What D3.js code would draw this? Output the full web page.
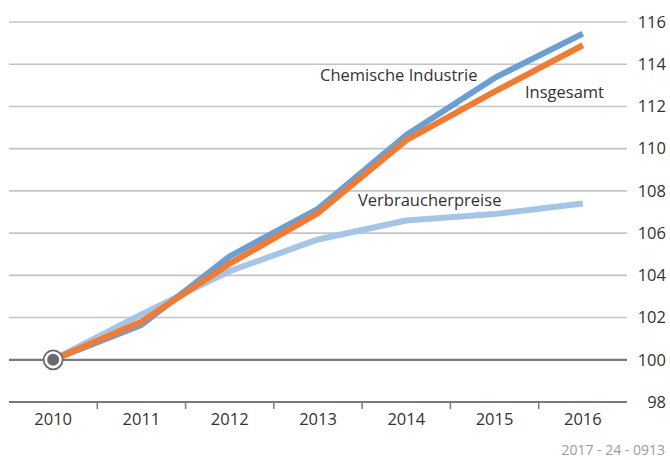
<!DOCTYPE html>
<html>
<head>
<meta charset="utf-8">
<script src="https://cdn.jsdelivr.net/npm/d3@7"></script>
<style>
  body { margin: 0; background: #fff; }
  svg text { font-family: "Open Sans", "Noto Sans", sans-serif; }
</style>
</head>
<body>
<svg id="chart" width="670" height="460"></svg>
<script>
// Index 2010 = 100
const years = ["2010", "2011", "2012", "2013", "2014", "2015", "2016"];
const chemie = [100, 101.65, 104.9, 107.15, 110.65, 113.35, 115.45];
const insgesamt = [100, 101.8, 104.55, 106.95, 110.4, 112.7, 114.9];
const verbraucher = [100, 102.15, 104.2, 105.7, 106.6, 106.9, 107.4];
const yTicks = [98, 100, 102, 104, 106, 108, 110, 112, 114, 116];

const series = [
  { name: "Verbraucherpreise", values: verbraucher, color: "#a3c6e8", label: [358, 206] },
  { name: "Chemische Industrie", values: chemie, color: "#6a9fd6", label: [320, 81] },
  { name: "Insgesamt", values: insgesamt, color: "#f47a30", label: [525, 98] }
];

const svg = d3.select("#chart");
const left = 9, right = 627;

const x = d3.scaleBand().domain(years).range([left, right]);
const y = d3.scaleLinear().domain([98, 116]).range([402, 22]);
const cx = d => x(d) + x.bandwidth() / 2;

// horizontal grid
svg.append("g").selectAll("line").data(yTicks).join("line")
  .attr("x1", left).attr("x2", right)
  .attr("y1", d => y(d)).attr("y2", d => y(d))
  .attr("stroke", d => d <= 100 ? "#7a7a7a" : "#c4c4c8")
  .attr("stroke-width", d => d <= 100 ? 2.2 : 1.6);

// right value axis labels
svg.append("g").selectAll("text").data(yTicks).join("text")
  .attr("x", 666).attr("y", d => y(d)).attr("dy", "0.35em")
  .attr("text-anchor", "end")
  .attr("font-size", 16.5).attr("fill", "#333")
  .text(d => d);

// bottom axis ticks between years
svg.append("g").selectAll("line").data(years.slice(1)).join("line")
  .attr("x1", d => x(d)).attr("x2", d => x(d))
  .attr("y1", y(98)).attr("y2", y(98) + 7)
  .attr("stroke", "#7a7a7a").attr("stroke-width", 1.5);

svg.append("g").selectAll("text").data(years).join("text")
  .attr("x", d => cx(d)).attr("y", 425)
  .attr("text-anchor", "middle")
  .attr("font-size", 16.5).attr("fill", "#333")
  .text(d => d);

// lines
const line = d3.line().x((d, i) => cx(years[i])).y(d => y(d));
svg.append("g").selectAll("path").data(series).join("path")
  .attr("d", d => line(d.values))
  .attr("fill", "none")
  .attr("stroke", d => d.color)
  .attr("stroke-width", 6)
  .attr("stroke-linejoin", "round");

// series labels
svg.append("g").selectAll("text").data(series).join("text")
  .attr("x", d => d.label[0]).attr("y", d => d.label[1])
  .attr("font-size", 16.5).attr("fill", "#333")
  .text(d => d.name);

// base year marker
const base = svg.append("g").attr("transform", `translate(${cx(years[0])},${y(chemie[0])})`);
base.append("circle").attr("r", 9.5).attr("fill", "#fff").attr("stroke", "#6a6a6a").attr("stroke-width", 1.8);
base.append("circle").attr("r", 6).attr("fill", "#6a6a6a");

// footer code
svg.append("text")
  .attr("x", 665).attr("y", 455)
  .attr("text-anchor", "end")
  .attr("font-size", 14).attr("fill", "#9a9a9a")
  .text("2017 - 24 - 0913");
</script>
</body>
</html>
